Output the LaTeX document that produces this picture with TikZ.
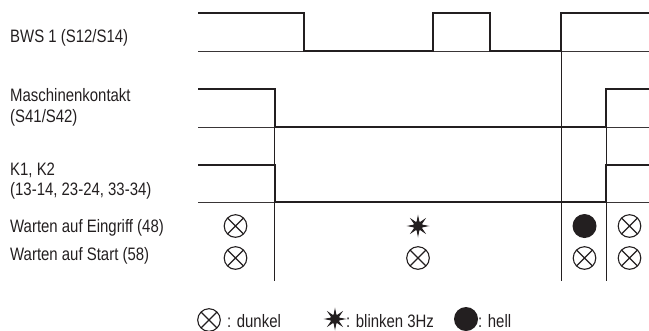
\documentclass[tikz,border=0pt]{standalone}
\usepackage{fontspec}
\setmainfont{Liberation Sans}[FakeStretch=0.83]
\definecolor{ink}{RGB}{35,31,32}
\tikzset{
  sig/.style={line width=2.6bp, draw=ink, line join=miter},
  base/.style={line width=1bp, draw=ink!90},
  guide/.style={line width=1bp, draw=ink},
  lbl/.style={anchor=base west, inner sep=0pt, text=ink, font=\fontsize{18bp}{20bp}\selectfont},
  dunkelsym/.pic={
    \draw[line width=1.1bp, ink] (0,0) circle[radius=11.3bp];
    \draw[line width=1.1bp, ink] (45:11.3) -- (225:11.3) (135:11.3) -- (315:11.3);
  },
  hellsym/.pic={
    \fill[ink] (0,0) circle[radius=12bp];
  },
  blinksym/.pic={
    \foreach \a in {0,45,...,315} {
      \fill[ink] (0,0) -- (\a-18:4.5) -- (\a:11.5) -- (\a+18:4.5) -- cycle;
    }
    \fill[ink] (0,0) circle[radius=5bp];
  }
}
\begin{document}
\begin{tikzpicture}[x=1bp,y=-1bp]
\useasboundingbox (0,0) rectangle (649,330);
% baselines
\draw[base] (198,51) -- (649,51);
\draw[base] (198,127) -- (649,127);
\draw[base] (198,202) -- (649,202);
% guide lines
\draw[guide] (274,127) -- (274,281);
\draw[guide] (561,51) -- (561,281);
\draw[guide] (606,127) -- (606,281);
% signals
\draw[sig] (198,13) -- (304,13) -- (304,51) -- (433,51) -- (433,13) -- (490,13) -- (490,51) -- (561,51) -- (561,13) -- (649,13);
\draw[sig] (198,89) -- (275,89) -- (275,127) -- (606,127) -- (606,89) -- (649,89);
\draw[sig] (198,165) -- (275,165) -- (275,202) -- (606,202) -- (606,165) -- (649,165);
% labels
\node[lbl] (l1) at (10,42) {BWS 1 (S12/S14)};
\node[lbl] (l2) at (10,101) {Maschinenkontakt};
\node[lbl] (l3) at (10,122) {(S41/S42)};
\node[lbl] (l4) at (10,175) {K1, K2};
\node[lbl] (l5) at (10,195) {(13-14, 23-24, 33-34)};
\node[lbl] (l6) at (10,232) {Warten auf Eingriff (48)};
\node[lbl] (l7) at (10,260) {Warten auf Start (58)};
% state symbols
\pic at (235.5,226) {dunkelsym};
\pic at (235.5,258) {dunkelsym};
\pic at (418,226) {blinksym};
\pic at (418,258) {dunkelsym};
\pic at (584.5,226) {hellsym};
\pic at (584.5,258) {dunkelsym};
\pic at (629.5,226) {dunkelsym};
\pic at (629.5,258) {dunkelsym};
% legend
\pic at (209,320) {dunkelsym};
\node[lbl] (g1) at (227,327) {: dunkel};
\pic at (335,319) {blinksym};
\node[lbl] (g2) at (346,327) {: blinken 3Hz};
\pic at (466,319) {hellsym};
\node[lbl] (g3) at (478,327) {: hell};
\end{tikzpicture}
\end{document}
